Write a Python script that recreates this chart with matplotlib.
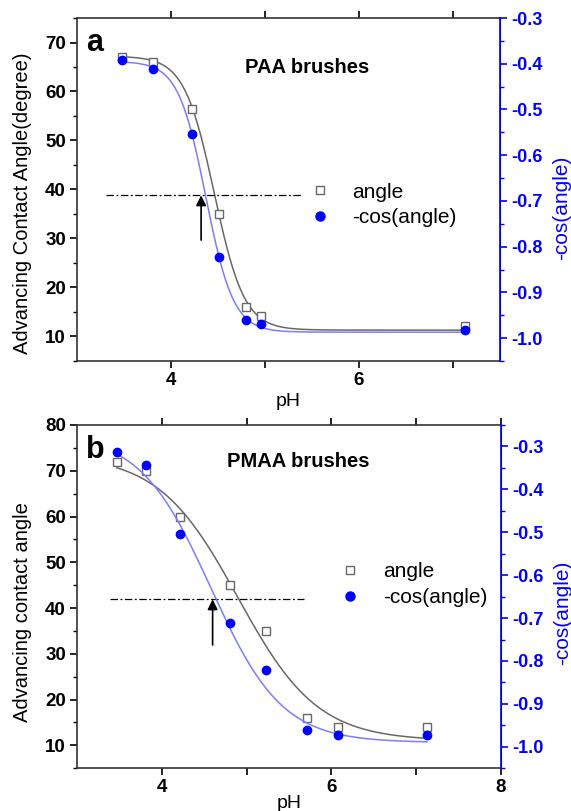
import numpy as np
import matplotlib
matplotlib.use("Agg")
import matplotlib.pyplot as plt
from matplotlib.lines import Line2D

plt.rcParams["font.family"] = ["Liberation Sans", "DejaVu Sans"]

# ── data ────────────────────────────────────────────────────────────────────
PH_A     = [3.48, 3.81, 4.22, 4.51, 4.80, 4.96, 7.13]
ANGLE_A  = [67.1, 66.1, 56.4, 35.0, 16.0, 14.1, 12.1]
NCOS_A   = [-0.392, -0.412, -0.553, -0.822, -0.961, -0.970, -0.983]

PH_B     = [3.47, 3.81, 4.22, 4.80, 5.23, 5.71, 6.08, 7.13]
ANGLE_B  = [72.0, 70.0, 60.0, 45.0, 35.0, 16.0, 14.0, 14.0]
NCOS_B   = [-0.313, -0.343, -0.503, -0.711, -0.822, -0.962, -0.972, -0.972]

# Boltzmann fit parameters (A1, A2, x0, dx)
FIT_ANGLE_A = (67.2, 11.3, 4.46, 0.16)
FIT_NCOS_A  = (-0.395, -0.987, 4.37, 0.147)
FIT_ANGLE_B = (73.5, 11.0, 4.90, 0.47)
FIT_NCOS_B  = (-0.27, -0.99, 4.58, 0.42)

# pKa marker: level of dash-dot line and arrow position
HLINE_A = (38.8, 3.31, 5.39)   # level, x start, x end
ARROW_A = 4.32
HLINE_B = (41.9, 3.39, 5.68)
ARROW_B = 4.60

GREY = "#686868"
BLUE = "#0000ff"
LBLUE = "#7c7cff"


def boltzmann(x, p):
    a1, a2, x0, dx = p
    return a2 + (a1 - a2) / (1 + np.exp((x - x0) / dx))


def panel(fig, rect, ph, ang, ncos, fit_ang, fit_cos, hline, arrow_x,
          xlim, ylim, ylim2, yticks, y2ticks, xticks, xlabels,
          ylabel, letter, title, title_xy, leg_xy, lab_pos):
    ax = fig.add_axes(rect)
    ax2 = ax.twinx()

    xs = np.linspace(ph[0], ph[-1], 300)
    ax.plot(xs, boltzmann(xs, fit_ang), color=GREY, lw=1.1)
    ax.plot(ph, ang, ls="none", marker="s", ms=5.5, mfc="white", mec=GREY, mew=1.0)
    ax2.plot(xs, boltzmann(xs, fit_cos), color=LBLUE, lw=1.1)
    ax2.plot(ph, ncos, ls="none", marker="o", ms=6, color=BLUE)

    lvl, x0, x1 = hline
    ax.plot([x0, x1], [lvl, lvl], color="black", lw=0.9, ls=(0, (6, 2, 1.5, 2)))
    ax.annotate("", xy=(arrow_x, lvl), xytext=(arrow_x, lvl - 0.27 * (lvl - ylim[0])),
                arrowprops=dict(arrowstyle="-|>", color="black", lw=1.2,
                                mutation_scale=15, shrinkA=0, shrinkB=0))

    ax.set_xlim(*xlim)
    ax.set_ylim(*ylim)
    ax2.set_ylim(*ylim2)
    ax.set_xticks(xticks)
    ax.set_xticklabels(xlabels)
    ax.set_yticks(yticks)
    ax.set_yticks(np.arange(ylim[0], ylim[1] + 0.1, 5), minor=True)
    ax2.set_yticks(y2ticks)
    ax2.set_yticklabels([f"{v:.1f}" for v in y2ticks])
    ax2.set_yticks(np.arange(-1.05, ylim2[1] + 0.001, 0.05), minor=True)

    ax.tick_params(axis="both", which="major", direction="out", length=5, width=1.2,
                   labelsize=13.5, top=True, pad=3)
    ax.tick_params(axis="y", which="minor", direction="out", length=3, width=1.0)
    ax2.tick_params(axis="y", which="major", direction="out", length=5, width=1.2,
                    labelsize=13, colors=BLUE, pad=3)
    ax2.tick_params(axis="y", which="minor", direction="out", length=3, width=1.0,
                    colors=BLUE)
    for lab in ax.get_xticklabels() + ax.get_yticklabels() + ax2.get_yticklabels():
        lab.set_fontweight("bold")
    for s in ["left", "bottom", "top"]:
        ax.spines[s].set_linewidth(1.2)
        ax.spines[s].set_color("#333333")
    ax2.spines["right"].set_color(BLUE)
    ax2.spines["right"].set_linewidth(1.2)
    for s in ["left", "bottom", "top"]:
        ax2.spines[s].set_visible(False)

    ax.set_xlabel("pH", fontsize=14)
    ax.set_ylabel(ylabel, fontsize=14.5)
    ax2.set_ylabel("-cos(angle)", fontsize=15, color=BLUE)
    xl_y, yl, y2l = lab_pos
    ax.xaxis.set_label_coords(0.5, xl_y)
    ax.yaxis.set_label_coords(-0.106, yl)
    ax2.yaxis.set_label_coords(1.123, y2l)

    ax.text(0.022, 0.97, letter, transform=ax.transAxes, fontsize=22,
            fontweight="bold", va="top", ha="left")
    ax.text(title_xy[0], title_xy[1], title, transform=ax.transAxes, fontsize=14.5,
            fontweight="bold", va="center", ha="left")

    handles = [Line2D([], [], ls="none", marker="s", ms=5.5, mfc="white", mec=GREY),
               Line2D([], [], ls="none", marker="o", ms=6.5, color=BLUE)]
    ax.legend(handles, ["angle", "-cos(angle)"], loc="center left",
              bbox_to_anchor=leg_xy, frameon=False, fontsize=15,
              handletextpad=0.95, labelspacing=0.32, borderaxespad=0,
              handlelength=1.2)
    return ax, ax2


fig = plt.figure(figsize=(5.71, 8.11), dpi=100)

panel(fig, [0.1349, 0.5549, 0.7408, 0.4229], PH_A, ANGLE_A, NCOS_A,
      FIT_ANGLE_A, FIT_NCOS_A, HLINE_A, ARROW_A,
      xlim=(3.0, 7.5), ylim=(5, 75), ylim2=(-1.05, -0.3),
      yticks=[10, 20, 30, 40, 50, 60, 70],
      y2ticks=[-1.0, -0.9, -0.8, -0.7, -0.6, -0.5, -0.4, -0.3],
      xticks=[4, 5, 6, 7], xlabels=["4", "", "6", ""],
      ylabel="Advancing Contact Angle(degree)", letter="a",
      title="PAA brushes", title_xy=(0.397, 0.857), leg_xy=(0.524, 0.455),
      lab_pos=(-0.093, 0.459, 0.446))

panel(fig, [0.1349, 0.0527, 0.742, 0.4233], PH_B, ANGLE_B, NCOS_B,
      FIT_ANGLE_B, FIT_NCOS_B, HLINE_B, ARROW_B,
      xlim=(3.0, 8.0), ylim=(5, 80), ylim2=(-1.05, -0.25),
      yticks=[10, 20, 30, 40, 50, 60, 70, 80],
      y2ticks=[-1.0, -0.9, -0.8, -0.7, -0.6, -0.5, -0.4, -0.3],
      xticks=[4, 5, 6, 7, 8], xlabels=["4", "", "6", "", "8"],
      ylabel="Advancing contact angle", letter="b",
      title="PMAA brushes", title_xy=(0.354, 0.893), leg_xy=(0.596, 0.535),
      lab_pos=(-0.077, 0.456, 0.452))

fig.savefig("out.png", dpi=100)
